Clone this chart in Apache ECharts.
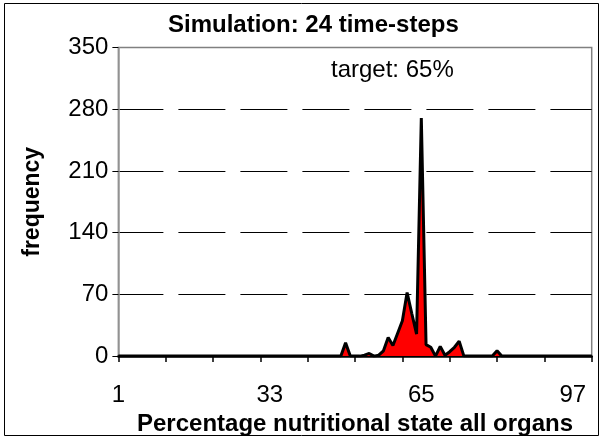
<!DOCTYPE html>
<html>
<head>
<meta charset="utf-8">
<script src="https://cdn.jsdelivr.net/npm/echarts@6/dist/echarts.min.js"></script>
<style>
html,body{margin:0;padding:0;background:#fff;}
#c{width:602px;height:441px;}
</style>
</head>
<body>
<div id="c"></div>
<script>
const titleText = "Simulation: 24 time-steps";
const xAxisName = "Percentage nutritional state all organs";
const yAxisName = "frequency";
const annotation = "target: 65%";
const categories = [
  "1","2","3","4","5","6","7","8","9","10",
  "11","12","13","14","15","16","17","18","19","20",
  "21","22","23","24","25","26","27","28","29","30",
  "31","32","33","34","35","36","37","38","39","40",
  "41","42","43","44","45","46","47","48","49","50",
  "51","52","53","54","55","56","57","58","59","60",
  "61","62","63","64","65","66","67","68","69","70",
  "71","72","73","74","75","76","77","78","79","80",
  "81","82","83","84","85","86","87","88","89","90",
  "91","92","93","94","95","96","97","98","99","100",
  "101"
];
const frequency = [
  0,0,0,0,0,0,0,0,0,0,
  0,0,0,0,0,0,0,0,0,0,
  0,0,0,0,0,0,0,0,0,0,
  0,0,0,0,0,0,0,0,0,0,
  0,0,0,0,0,0,0,0,15,0,
  0,0,1,3,0,1,6,21,12,26,
  40,72,48,25,270,13,10,0,11,1,
  5,10,17,0,0,0,0,0,0,0,
  6,0,0,0,0,0,0,0,0,0,
  0,0,0,0,0,0,0,0,0,0,
  0
];
const yMin = 0, yMax = 350, yStep = 70;

const chart = echarts.init(document.getElementById('c'), null, {renderer:'canvas'});
const FONT = 'Liberation Sans, Arial, sans-serif';
chart.setOption({
  animation: false,
  backgroundColor: '#fff',
  title: {
    text: titleText,
    left: 163, top: 8,
    textStyle: {fontFamily: FONT, fontSize: 24, fontWeight: 'bold', color: '#000'}
  },
  grid: {
    left: 118.4, right: 10.3, top: 47.5, bottom: 83.5,
    show: true, borderColor: '#808080', borderWidth: 1.5, backgroundColor: '#fff'
  },
  xAxis: {
    type: 'category',
    data: categories,
    boundaryGap: false,
    name: xAxisName,
    nameLocation: 'middle',
    nameGap: 50,
    nameTextStyle: {fontFamily: FONT, fontSize: 24, fontWeight: 'bold', color: '#000'},
    axisLine: {show: true, lineStyle: {color: '#000', width: 2.5}},
    axisTick: {show: true, interval: 9, length: 6, lineStyle: {color: '#000', width: 1.5}},
    axisLabel: {interval: 31, margin: 27, fontFamily: FONT, fontSize: 24, color: '#000'},
    splitLine: {show: false}
  },
  yAxis: {
    type: 'value',
    min: yMin, max: yMax, interval: yStep,
    name: yAxisName,
    nameLocation: 'middle',
    nameGap: 74,
    nameRotate: 90,
    nameTextStyle: {fontFamily: FONT, fontSize: 23, fontWeight: 'bold', color: '#000'},
    axisLine: {show: true, lineStyle: {color: '#999', width: 1.5}},
    axisTick: {show: true, length: 6, lineStyle: {color: '#000', width: 1}},
    axisLabel: {margin: 10, fontFamily: FONT, fontSize: 24, color: '#000'},
    splitLine: {show: true, showMinLine: false, showMaxLine: false,
      lineStyle: {color: '#000', width: 1, type: [47, 15], dashOffset: 2}}
  },
  series: [{
    type: 'line',
    data: frequency,
    symbol: 'none',
    smooth: false,
    lineStyle: {color: '#000', width: 3, join: 'bevel'},
    areaStyle: {color: '#ff0000', opacity: 1},
    z: 3
  }],
  graphic: [
    {type: 'rect', shape: {x: 4.5, y: 3.5, width: 594, height: 432},
     style: {fill: null, stroke: '#000', lineWidth: 1}, silent: true, z: 100},
    {type: 'text', left: 331, top: 58,
     style: {text: annotation, font: '24px Liberation Sans, Arial, sans-serif', fill: '#000'}, z: 100}
  ]
});
</script>
</body>
</html>
